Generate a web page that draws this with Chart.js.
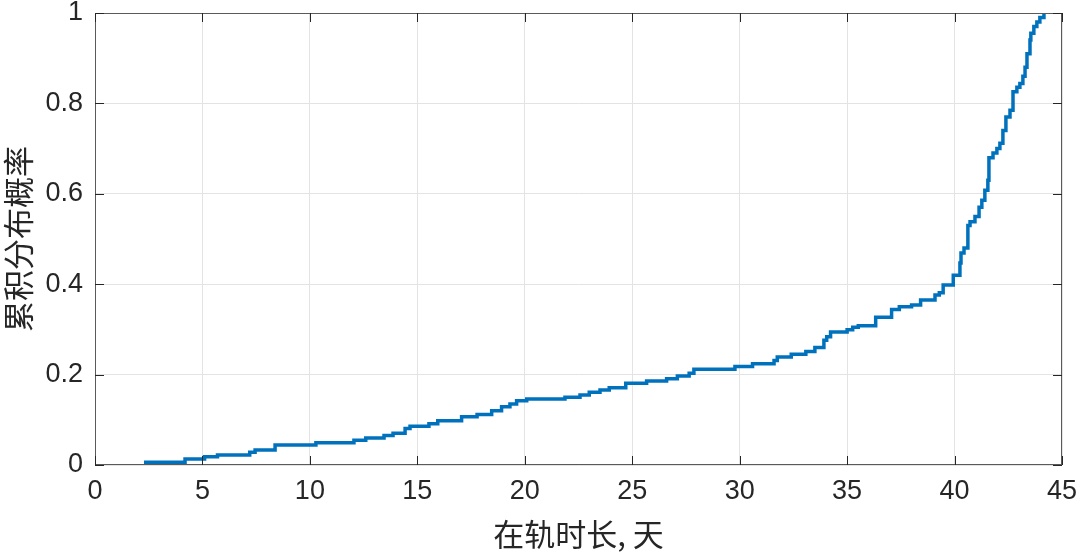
<!DOCTYPE html>
<html>
<head>
<meta charset="utf-8">
<script src="https://cdn.jsdelivr.net/npm/chart.js@4/dist/chart.umd.min.js"></script>
<style>
  html, body { margin: 0; padding: 0; background: #fff; }
  #wrap { width: 1080px; height: 554px; }
</style>
</head>
<body>
<div id="wrap"><canvas id="myChart" width="1080" height="554"></canvas></div>
<script>
// 在轨时长 (days) where the empirical CDF jumps, and the CDF value after each jump
var days = [2.28, 4.19, 5.1, 5.7, 7.2, 7.45, 8.38, 10.28, 12.05, 12.6, 13.45, 13.87, 14.43, 14.66,
  15.54, 15.95, 17.06, 17.78, 18.46, 18.92, 19.31, 19.62, 20.09, 21.87, 22.57, 23.0, 23.5, 23.93,
  24.7, 25.67, 26.6, 27.1, 27.65, 27.87, 29.78, 30.6, 31.6, 31.75, 32.4, 33.08, 33.5, 33.92, 34.05,
  34.23, 35.0, 35.26, 35.52, 36.33, 37.07, 37.43, 38.0, 38.42, 39.09, 39.29, 39.47, 39.94, 40.25,
  40.3, 40.44, 40.62, 40.72, 40.95, 41.14, 41.27, 41.41, 41.55, 41.6, 41.79, 41.97, 42.11, 42.25,
  42.39, 42.58, 42.72, 42.9, 43.04, 43.18, 43.28, 43.37, 43.51, 43.55, 43.69, 43.83, 43.97, 44.16];
var cdf = [0.006, 0.013, 0.018, 0.022, 0.028, 0.033, 0.044, 0.049, 0.055, 0.06, 0.065, 0.07, 0.081, 0.086,
  0.091, 0.098, 0.107, 0.112, 0.12, 0.129, 0.135, 0.142, 0.146, 0.15, 0.155, 0.161, 0.166, 0.171,
  0.181, 0.186, 0.191, 0.197, 0.203, 0.212, 0.218, 0.224, 0.231, 0.239, 0.245, 0.251, 0.26, 0.276, 0.284,
  0.294, 0.299, 0.305, 0.308, 0.327, 0.344, 0.35, 0.354, 0.365, 0.376, 0.381, 0.398, 0.42, 0.447,
  0.469, 0.48, 0.53, 0.538, 0.55, 0.57, 0.586, 0.608, 0.63, 0.68, 0.69, 0.70, 0.712, 0.74,
  0.77, 0.785, 0.826, 0.836, 0.844, 0.86, 0.88, 0.91, 0.94, 0.955, 0.97, 0.98, 0.99, 1.0];

var xTitle = '在轨时长, 天';
var yTitle = '累积分布概率';

var pts = [];
for (let i = 0; i < days.length; i++) {
  pts.push({x: days[i], y: cdf[i]});
}

// matlab style box + inward ticks
var boxPlugin = {
  id: 'box',
  afterDraw(chart) {
    const ctx = chart.ctx, a = chart.chartArea;
    const xs = chart.scales.x, ys = chart.scales.y;
    ctx.save();
    ctx.strokeStyle = '#5a5a5a';
    ctx.lineWidth = 1;
    ctx.strokeRect(a.left + 0.5, a.top + 0.5, a.right - a.left - 1, a.bottom - a.top - 1);
    ctx.strokeStyle = '#262626';
    ctx.beginPath();
    xs.ticks.forEach(t => {
      const px = Math.round(xs.getPixelForValue(t.value)) + 0.5;
      ctx.moveTo(px, a.bottom); ctx.lineTo(px, a.bottom - 9);
      ctx.moveTo(px, a.top); ctx.lineTo(px, a.top + 9);
    });
    ys.ticks.forEach(t => {
      const py = Math.round(ys.getPixelForValue(t.value)) + 0.5;
      ctx.moveTo(a.left, py); ctx.lineTo(a.left + 9, py);
      ctx.moveTo(a.right, py); ctx.lineTo(a.right - 9, py);
    });
    ctx.stroke();
    ctx.restore();
  }
};

var ctx = document.getElementById('myChart').getContext('2d');
var myChart = new Chart(ctx, {
  type: 'line',
  data: {
    datasets: [{
      data: pts,
      stepped: 'before',
      borderColor: '#0072BD',
      borderWidth: 3.5,
      pointRadius: 0,
      fill: false,
      tension: 0
    }]
  },
  options: {
    responsive: false,
    animation: false,
    layout: { padding: { top: 13, right: 18, left: 0, bottom: 0 } },
    plugins: { legend: { display: false }, tooltip: { enabled: false } },
    scales: {
      x: {
        type: 'linear',
        min: 0, max: 45,
        grid: { color: '#e3e3e3', drawTicks: false },
        border: { display: false },
        ticks: { stepSize: 5, padding: 10, color: '#262626', maxRotation: 0,
                 font: { family: 'Liberation Sans, Arial', size: 27 } },
        title: { display: true, text: xTitle, color: '#262626',
                 font: { family: 'Noto Sans CJK SC', size: 31, lineHeight: 1.2 },
                 padding: { top: 0, bottom: 1 } },
        afterFit(s) { s.height = 89; s.paddingLeft = 0; s.paddingRight = 0; }
      },
      y: {
        min: 0, max: 1,
        grid: { color: '#e3e3e3', drawTicks: false },
        border: { display: false },
        ticks: { stepSize: 0.2, padding: 12, color: '#262626',
                 font: { family: 'Liberation Sans, Arial', size: 27 },
                 callback: v => String(Math.round(v * 10) / 10) },
        title: { display: true, text: yTitle, color: '#262626',
                 font: { family: 'Noto Sans CJK SC', size: 31, lineHeight: 1.2 },
                 padding: { top: 0, bottom: 0 } },
        afterFit(s) { s.width = 95; s.paddingTop = 0; s.paddingBottom = 0; }
      }
    }
  },
  plugins: [boxPlugin]
});
</script>
</body>
</html>
